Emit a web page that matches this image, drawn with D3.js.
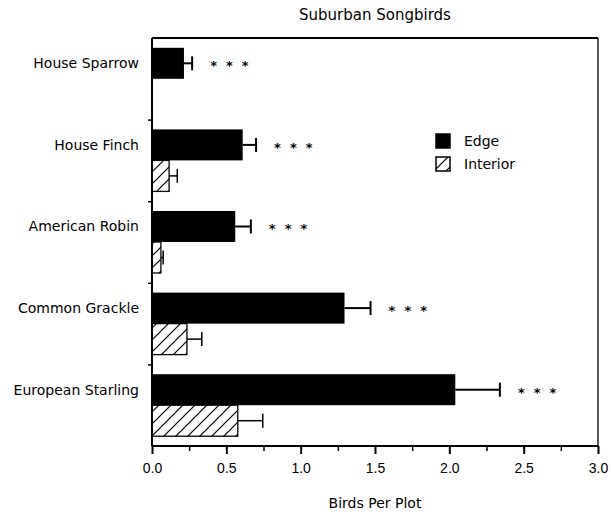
<!DOCTYPE html>
<html>
<head>
<meta charset="utf-8">
<script src="https://cdn.jsdelivr.net/npm/d3@7"></script>
<style>
  body { margin: 0; background: #fff; }
  svg { display: block; font-family: "DejaVu Sans", Verdana, sans-serif; }
</style>
</head>
<body>
<svg id="chart" width="611" height="515"></svg>
<script>
const species = ['House Sparrow', 'House Finch', 'American Robin', 'Common Grackle', 'European Starling'];
const series = ['Edge', 'Interior'];
const edgeMeans = [0.215, 0.61, 0.56, 1.295, 2.04];
const edgeErrors = [0.055, 0.09, 0.105, 0.175, 0.30];
const interiorMeans = [0, 0.115, 0.06, 0.235, 0.577];
const interiorErrors = [0, 0.055, 0.015, 0.10, 0.168];
const significance = ['* * *', '* * *', '* * *', '* * *', '* * *'];
const majorTicks = [0, 0.5, 1.0, 1.5, 2.0, 2.5, 3.0];
const minorTicks = [0.25, 0.75, 1.25, 1.75, 2.25, 2.75];

const margin = { top: 38, right: 13, bottom: 69, left: 152 };
const width = 611, height = 515;
const svg = d3.select('#chart');

const x = d3.scaleLinear().domain([0, 3]).range([margin.left, width - margin.right]);
const y = d3.scaleBand().domain(species).range([margin.top, height - margin.bottom]).padding(0);
const ySub = d3.scaleBand().domain(series).range([0, y.bandwidth()]).paddingInner(0).paddingOuter(0.316);
const yEdges = d3.scaleLinear().domain([0, species.length]).range([margin.top, height - margin.bottom]);

// hatch pattern for interior bars
const defs = svg.append('defs');
const pat = defs.append('pattern')
  .attr('id', 'hatch').attr('patternUnits', 'userSpaceOnUse')
  .attr('width', 12).attr('height', 12);
pat.append('rect').attr('width', 12).attr('height', 12).attr('fill', '#fff');
pat.append('path').attr('d', 'M-3,3 L3,-3 M0,12 L12,0 M9,15 L15,9')
  .attr('stroke', '#000').attr('stroke-width', 1.2);

const rows = species.map((s, i) => ([
  { sp: s, key: 'Edge', v: edgeMeans[i], e: edgeErrors[i], sig: significance[i] },
  { sp: s, key: 'Interior', v: interiorMeans[i], e: interiorErrors[i], sig: null }
])).flat();

const g = svg.append('g');
const bars = g.selectAll('g.bar').data(rows.filter(d => d.v > 0)).join('g').attr('class', 'bar');
const midY = d => y(d.sp) + ySub(d.key) + ySub.bandwidth() / 2;

bars.append('rect')
  .attr('x', x(0))
  .attr('y', d => y(d.sp) + ySub(d.key))
  .attr('width', d => x(d.v) - x(0))
  .attr('height', ySub.bandwidth())
  .attr('fill', d => d.key === 'Edge' ? '#000' : 'url(#hatch)')
  .attr('stroke', '#000')
  .attr('stroke-width', d => d.key === 'Edge' ? 0 : 1.3);

bars.append('line')
  .attr('x1', d => x(d.v)).attr('x2', d => x(d.v + d.e))
  .attr('y1', midY).attr('y2', midY)
  .attr('stroke', '#000').attr('stroke-width', d => d.key === 'Edge' ? 2 : 1.5);

bars.append('line')
  .attr('x1', d => x(d.v + d.e)).attr('x2', d => x(d.v + d.e))
  .attr('y1', d => midY(d) - 7).attr('y2', d => midY(d) + 7)
  .attr('stroke', '#000').attr('stroke-width', d => d.key === 'Edge' ? 2 : 1.5);

bars.filter(d => d.sig).append('text')
  .attr('x', d => x(d.v + d.e) + 18)
  .attr('y', d => midY(d) + 7)
  .attr('font-size', 13).attr('font-weight', 'bold').attr('fill', '#000')
  .attr('xml:space', 'preserve')
  .text(d => d.sig.replace(/ /g, '  '));

// frame
const x0 = margin.left, x1 = width - margin.right;
const y0 = margin.top, y1 = height - margin.bottom;
svg.append('line').attr('x1', x0).attr('x2', x1).attr('y1', y0).attr('y2', y0)
  .attr('stroke', '#000').attr('stroke-width', 2);
svg.append('line').attr('x1', x1).attr('x2', x1).attr('y1', y0).attr('y2', y1)
  .attr('stroke', '#000').attr('stroke-width', 1.3);
svg.append('line').attr('x1', x0).attr('x2', x0).attr('y1', y0).attr('y2', y1)
  .attr('stroke', '#000').attr('stroke-width', 2);
svg.append('line').attr('x1', x0).attr('x2', x1).attr('y1', y1).attr('y2', y1)
  .attr('stroke', '#000').attr('stroke-width', 2);

// x axis
const xAxis = svg.append('g').attr('transform', `translate(0,${y1})`);
xAxis.call(d3.axisBottom(x).tickValues(majorTicks).tickSize(8).tickFormat(d3.format('.1f')));
xAxis.call(g => g.select('.domain').remove());
xAxis.selectAll('line').attr('stroke-width', 2);
xAxis.selectAll('text').attr('font-size', 14).attr('dy', '1.15em').attr('fill', '#000');
const xMinor = svg.append('g').attr('transform', `translate(0,${y1})`);
xMinor.call(d3.axisBottom(x).tickValues(minorTicks).tickSize(5).tickFormat(''));
xMinor.call(g => g.select('.domain').remove());
xMinor.selectAll('line').attr('stroke-width', 1.5);

// y axis: ticks at category boundaries
const yAxis = svg.append('g').attr('transform', `translate(${x0},0)`);
yAxis.call(d3.axisLeft(yEdges).tickValues(d3.range(1, species.length)).tickSize(4).tickFormat(''));
yAxis.call(g => g.select('.domain').remove());
yAxis.selectAll('line').attr('stroke-width', 1.5);

svg.append('g').selectAll('text').data(species).join('text')
  .attr('x', 139)
  .attr('y', d => y(d) + ySub('Edge') + ySub.bandwidth() / 2 + 5)
  .attr('text-anchor', 'end').attr('font-size', 14)
  .text(d => d);

// title and axis label
svg.append('text').attr('x', (x0 + x1) / 2).attr('y', 20)
  .attr('text-anchor', 'middle').attr('font-size', 15).text('Suburban Songbirds');
svg.append('text').attr('x', (x0 + x1) / 2).attr('y', 508)
  .attr('text-anchor', 'middle').attr('font-size', 14).text('Birds Per Plot');

// legend
const legend = svg.append('g').attr('transform', 'translate(436,134)');
series.forEach((s, i) => {
  const row = legend.append('g').attr('transform', `translate(0,${i * 23})`);
  row.append('rect').attr('width', 14).attr('height', 14)
    .attr('fill', s === 'Edge' ? '#000' : 'url(#hatch)')
    .attr('stroke', '#000').attr('stroke-width', 1.5);
  row.append('text').attr('x', 28).attr('y', 12).attr('font-size', 14).text(s);
});
</script>
</body>
</html>
